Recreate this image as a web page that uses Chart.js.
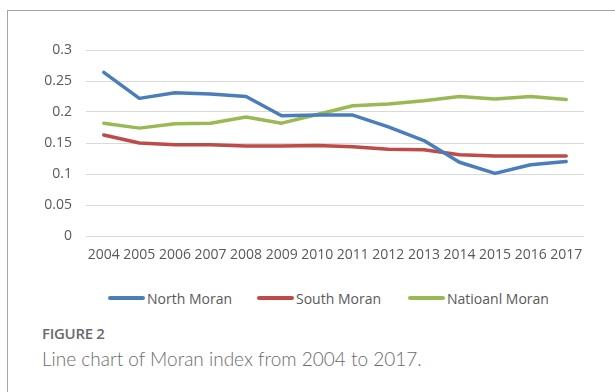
<!DOCTYPE html>
<html>
<head>
<meta charset="utf-8">
<script src="https://cdn.jsdelivr.net/npm/chart.js@4/dist/chart.umd.min.js"></script>
<style>
  html, body { margin: 0; padding: 0; background: #fff; overflow: hidden; width: 615px; height: 392px; }
  #frame { position: absolute; left: 7px; top: 10px; width: 700px; height: 500px;
           border-top: 1px solid #a6a6a6; border-left: 1px solid #a6a6a6; }
  #wrap { position: absolute; left: 0; top: 0; width: 615px; height: 280px; }
  #legend { position: absolute; left: 0; top: 288px; width: 615px; height: 20px; }
  .item { position: absolute; top: 0; height: 20px; display: flex; align-items: center;
          font-family: "Open Sans", sans-serif; font-size: 14px; color: #595959; white-space: nowrap; }
  .swatch { width: 37px; height: 4px; border-radius: 2px; margin-right: 2px; }
  #figlabel { position: absolute; left: 42px; top: 323px; font-family: "Open Sans", sans-serif;
              font-weight: 600; font-size: 15px; color: #6b6b6b; letter-spacing: -0.3px; }
  #caption { position: absolute; left: 42px; top: 347px; font-family: Lato, sans-serif;
             font-weight: 300; font-size: 19px; color: #6b6b6b; }
</style>
</head>
<body>
<div id="frame"></div>
<div id="wrap"><canvas id="chart"></canvas></div>
<div id="legend"></div>
<div id="figlabel">FIGURE 2</div>
<div id="caption">Line chart of Moran index from 2004 to 2017.</div>
<script>
// Years on the category axis
const years = ["2004","2005","2006","2007","2008","2009","2010","2011","2012","2013","2014","2015","2016","2017"];

// Moran index per region
const northMoran    = [0.264, 0.222, 0.231, 0.229, 0.225, 0.194, 0.195, 0.195, 0.176, 0.154, 0.119, 0.101, 0.115, 0.120];
const southMoran    = [0.163, 0.150, 0.147, 0.147, 0.145, 0.145, 0.146, 0.144, 0.140, 0.139, 0.131, 0.129, 0.129, 0.129];
const nationalMoran = [0.182, 0.174, 0.181, 0.182, 0.192, 0.182, 0.196, 0.210, 0.213, 0.218, 0.225, 0.221, 0.225, 0.220];

// Value axis labels
const yTicks = [0, 0.05, 0.1, 0.15, 0.2, 0.25, 0.3];
const yTickLabels = ["0", "0.05", "0.1", "0.15", "0.2", "0.25", "0.3"];

// Left edge of each legend entry
const legendLefts = [108, 257, 408];

const textColor = "#595959";
const tickFont = { family: "Open Sans", size: 14 };

const line = (label, data, color) => ({
  label, data,
  borderColor: color, backgroundColor: color,
  borderWidth: 3.5, pointRadius: 0, tension: 0, fill: false,
  borderCapStyle: "round", borderJoinStyle: "round"
});

const chart = new Chart(document.getElementById("chart"), {
  type: "line",
  data: {
    labels: years,
    datasets: [
      line("North Moran", northMoran, "#4a7ebb"),
      line("South Moran", southMoran, "#be4b48"),
      line("Natioanl Moran", nationalMoran, "#98b954")
    ]
  },
  options: {
    responsive: true,
    maintainAspectRatio: false,
    animation: false,
    layout: { padding: { top: 50, right: 31, left: 0, bottom: 0 } },
    plugins: {
      tooltip: { enabled: false },
      legend: { display: false }
    },
    scales: {
      x: {
        offset: true,
        afterFit: s => { s.height = 44; },
        grid: { display: false, drawTicks: false },
        border: { display: false },
        ticks: { color: textColor, font: tickFont, maxRotation: 0, autoSkip: false, padding: 11 }
      },
      y: {
        min: 0, max: 0.3,
        afterFit: s => { s.width = 86; },
        afterBuildTicks: s => { s.ticks = yTicks.map(v => ({ value: v })); },
        grid: { color: "#d9d9d9", lineWidth: 1, drawTicks: false },
        border: { display: false },
        ticks: {
          color: textColor, font: tickFont, padding: 14,
          callback: (v) => yTickLabels[yTicks.findIndex(t => Math.abs(t - v) < 1e-9)]
        }
      }
    }
  }
});

// Series key built from the chart's own datasets
const legendEl = document.getElementById("legend");
chart.data.datasets.forEach((ds, i) => {
  const item = document.createElement("div");
  item.className = "item";
  item.style.left = legendLefts[i] + "px";
  const sw = document.createElement("span");
  sw.className = "swatch";
  sw.style.background = ds.borderColor;
  item.appendChild(sw);
  item.appendChild(document.createTextNode(ds.label));
  legendEl.appendChild(item);
});
</script>
</body>
</html>
